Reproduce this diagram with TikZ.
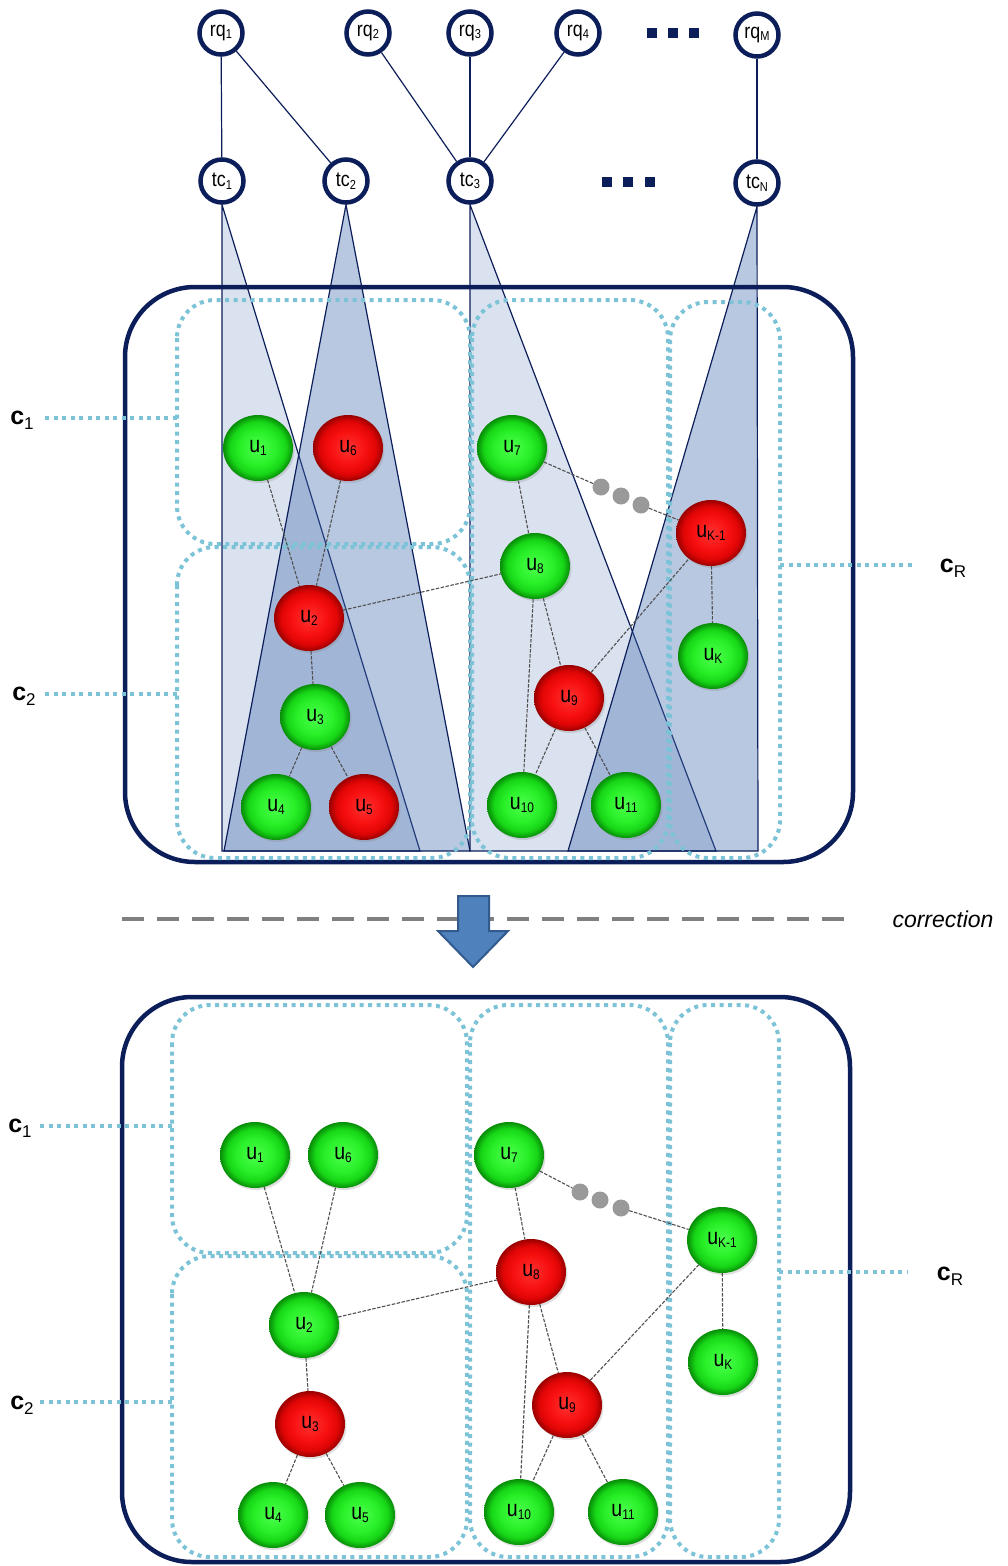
\documentclass[tikz,border=0pt]{standalone}
\usepackage{fontspec}
\setmainfont{Liberation Sans}
\newfontfamily\nfont[FakeStretch=0.85]{Liberation Sans}
\usetikzlibrary{shapes.geometric,shadows}

\definecolor{navy}{RGB}{12,30,90}
\definecolor{clus}{RGB}{125,195,215}
\definecolor{cone}{RGB}{70,110,175}
\definecolor{edgegray}{RGB}{80,80,80}
\definecolor{arrowfill}{RGB}{79,129,189}
\definecolor{arrowdraw}{RGB}{50,90,140}
\definecolor{corrgray}{RGB}{128,128,128}

\pgfdeclareradialshading{gball}{\pgfpoint{0bp}{0bp}}{rgb(0bp)=(0.3,1,0.3); rgb(13bp)=(0.16,0.94,0.16); rgb(20bp)=(0.09,0.84,0.09); rgb(25bp)=(0.03,0.55,0.03); rgb(50bp)=(0.03,0.55,0.03)}
\pgfdeclareradialshading{rball}{\pgfpoint{0bp}{0bp}}{rgb(0bp)=(1,0.2,0.2); rgb(13bp)=(0.97,0.06,0.06); rgb(20bp)=(0.88,0.02,0.02); rgb(25bp)=(0.6,0,0); rgb(50bp)=(0.6,0,0)}

\newcommand\usub[1]{\raisebox{-3pt}{\fontsize{14}{14}\selectfont #1}}
\newcommand\qsub[1]{\raisebox{-2.5pt}{\fontsize{13}{13}\selectfont #1}}
\newcommand\csub[1]{\raisebox{-5pt}{\fontsize{17}{17}\selectfont\mdseries #1}}

\tikzset{
  ubase/.style={ellipse, minimum width=70pt, minimum height=66pt, inner sep=0pt,
    font=\nfont\fontsize{23}{23}\selectfont,
    drop shadow={opacity=0.25, shadow xshift=1.5pt, shadow yshift=-2pt}},
  gn/.style={ubase, shade, shading=gball},
  rn/.style={ubase, shade, shading=rball},
  qnode/.style={circle, draw=navy, line width=4.5pt, fill=white, minimum size=43pt,
    inner sep=0pt, font=\nfont\fontsize{21}{21}\selectfont},
  link/.style={draw=navy, line width=1.2pt},
  coneA/.style={fill=cone, fill opacity=0.2, draw=navy, line width=1.2pt},
  coneB/.style={fill=cone, fill opacity=0.38, draw=navy, line width=1.2pt},
  outerbox/.style={draw=navy, line width=4.5pt, rounded corners=70pt},
  clusbox/.style={draw=clus, line width=4pt, dash pattern=on 4pt off 4.5pt, rounded corners=38pt},
  cline/.style={draw=clus, line width=4pt, dash pattern=on 4pt off 4.5pt},
  uedge/.style={draw=edgegray, line width=1.1pt, dash pattern=on 3.5pt off 1.5pt},
  gdot/.style={circle, fill=gray!80, minimum size=17pt, inner sep=0pt},
  sq/.style={fill=navy, minimum size=10pt, inner sep=0pt},
  clabel/.style={font=\bfseries\fontsize{25}{25}\selectfont, inner sep=1pt},
  corr/.style={draw=corrgray, line width=4.5pt, dash pattern=on 22pt off 13pt},
}

\begin{document}
\begin{tikzpicture}[x=1pt,y=-1pt]
\useasboundingbox (0,0) rectangle (1008,1566);

% ---------------- request / test-case layer
\node[qnode] (rq1) at (221,33) {rq\qsub{1}};
\node[qnode] (rq2) at (368,33) {rq\qsub{2}};
\node[qnode] (rq3) at (470,33) {rq\qsub{3}};
\node[qnode] (rq4) at (578,33) {rq\qsub{4}};
\node[qnode] (rqM) at (757,35) {rq\qsub{M}};
\node[sq] (qd1) at (652,33) {};
\node[sq] (qd2) at (673,33) {};
\node[sq] (qd3) at (694,33) {};

\node[qnode] (tc1) at (222,181) {tc\qsub{1}};
\node[qnode] (tc2) at (346,181) {tc\qsub{2}};
\node[qnode] (tc3) at (470,181) {tc\qsub{3}};
\node[qnode] (tcN) at (757,183) {tc\qsub{N}};
\node[sq] (td1) at (607,182) {};
\node[sq] (td2) at (628,182) {};
\node[sq] (td3) at (650,182) {};

\draw[link] (rq1) -- (tc1);
\draw[link] (rq1) -- (tc2);
\draw[link] (rq2) -- (tc3);
\draw[link] (rq3) -- (tc3);
\draw[link] (rq4) -- (tc3);
\draw[link] (rqM) -- (tcN);

% ---------------- cones
\path[coneA] (tc1.south) -- (222,851) -- (420,851) -- cycle;
\path[coneB] (tc2.south) -- (224,851) -- (470,851) -- cycle;
\path[coneA] (tc3.south) -- (470,851) -- (716,851) -- cycle;
\path[coneB] (tcN.south) -- (568,851) -- (758,851) -- cycle;

% ---------------- top system
\draw[outerbox] (125,287) rectangle (853,862);
\draw[clusbox] (177,300) rectangle (470,544);
\draw[clusbox] (177,547) rectangle (470,858);
\draw[clusbox] (472,300) rectangle (668,858);
\draw[clusbox] (670,302) rectangle (780,858);

\node[clabel] (tl1) at (22,420) {c\csub{1}};
\node[clabel] (tl2) at (24,696) {c\csub{2}};
\node[clabel] (tlR) at (953,568) {c\csub{R}};
\coordinate (tl1a) at (45,418);  \coordinate (tl1b) at (177,418);
\coordinate (tl2a) at (45,694);  \coordinate (tl2b) at (177,694);
\coordinate (tlRa) at (780,565); \coordinate (tlRb) at (912,565);
\draw[cline] (tl1a) -- (tl1b);
\draw[cline] (tl2a) -- (tl2b);
\draw[cline] (tlRa) -- (tlRb);

\node[gn] (a1) at (258,448) {u\usub{1}};
\node[rn] (a6) at (348,448) {u\usub{6}};
\node[gn] (a7) at (512,448) {u\usub{7}};
\node[rn] (aK1) at (711,533) {u\usub{K-1}};
\node[gn] (a8) at (535,566) {u\usub{8}};
\node[rn] (a2) at (309,618) {u\usub{2}};
\node[gn] (aK) at (713,656) {u\usub{K}};
\node[rn] (a9) at (569,698) {u\usub{9}};
\node[gn] (a3) at (315,717) {u\usub{3}};
\node[gn] (a4) at (276,807) {u\usub{4}};
\node[rn] (a5) at (364,807) {u\usub{5}};
\node[gn] (a10) at (522,805) {u\usub{10}};
\node[gn] (a11) at (626,805) {u\usub{11}};
\node[gdot] (ad1) at (601,487) {};
\node[gdot] (ad2) at (621,496) {};
\node[gdot] (ad3) at (641,505) {};

\draw[uedge] (a1) -- (a2);
\draw[uedge] (a6) -- (a2);
\draw[uedge] (a2) -- (a8);
\draw[uedge] (a2) -- (a3);
\draw[uedge] (a3) -- (a4);
\draw[uedge] (a3) -- (a5);
\draw[uedge] (a7) -- (a8);
\draw[uedge] (a8) -- (a10);
\draw[uedge] (a8) -- (a9);
\draw[uedge] (a9) -- (a10);
\draw[uedge] (a9) -- (a11);
\draw[uedge] (a9) -- (aK1);
\draw[uedge] (aK1) -- (aK);
\draw[uedge] (a7) -- (ad1);
\draw[uedge] (ad3) -- (aK1);

% ---------------- correction separator
\coordinate (cs) at (122,919);
\coordinate (ce) at (857,919);
\draw[corr] (cs) -- (ce);
\node[font=\itshape\fontsize{23}{23}\selectfont] (corrtext) at (943,919) {correction};
\draw[fill=arrowfill, draw=arrowdraw, line width=2pt, line join=miter]
  (458,896) -- (489,896) -- (489,931) -- (508,931) -- (473,967) -- (438,931) -- (458,931) -- cycle;

% ---------------- bottom system
\draw[outerbox] (122,997) rectangle (850,1562);
\draw[clusbox] (172,1005) rectangle (467,1253);
\draw[clusbox] (172,1256) rectangle (467,1557);
\draw[clusbox] (470,1005) rectangle (668,1557);
\draw[clusbox] (670,1005) rectangle (779,1557);

\node[clabel] (bl1) at (20,1128) {c\csub{1}};
\node[clabel] (bl2) at (22,1405) {c\csub{2}};
\node[clabel] (blR) at (950,1276) {c\csub{R}};
\coordinate (bl1a) at (40,1126);  \coordinate (bl1b) at (172,1126);
\coordinate (bl2a) at (40,1402);  \coordinate (bl2b) at (172,1402);
\coordinate (blRa) at (779,1272); \coordinate (blRb) at (908,1272);
\draw[cline] (bl1a) -- (bl1b);
\draw[cline] (bl2a) -- (bl2b);
\draw[cline] (blRa) -- (blRb);

\node[gn] (b1) at (255,1155) {u\usub{1}};
\node[gn] (b6) at (343,1155) {u\usub{6}};
\node[gn] (b7) at (509,1155) {u\usub{7}};
\node[gn] (bK1) at (722,1240) {u\usub{K-1}};
\node[rn] (b8) at (531,1272) {u\usub{8}};
\node[gn] (b2) at (304,1325) {u\usub{2}};
\node[gn] (bK) at (723,1362) {u\usub{K}};
\node[rn] (b9) at (567,1405) {u\usub{9}};
\node[rn] (b3) at (310,1424) {u\usub{3}};
\node[gn] (b4) at (273,1515) {u\usub{4}};
\node[gn] (b5) at (360,1515) {u\usub{5}};
\node[gn] (b10) at (519,1512) {u\usub{10}};
\node[gn] (b11) at (623,1512) {u\usub{11}};
\node[gdot] (bd1) at (580,1192) {};
\node[gdot] (bd2) at (600,1200) {};
\node[gdot] (bd3) at (621,1208) {};

\draw[uedge] (b1) -- (b2);
\draw[uedge] (b6) -- (b2);
\draw[uedge] (b2) -- (b8);
\draw[uedge] (b2) -- (b3);
\draw[uedge] (b3) -- (b4);
\draw[uedge] (b3) -- (b5);
\draw[uedge] (b7) -- (b8);
\draw[uedge] (b8) -- (b10);
\draw[uedge] (b8) -- (b9);
\draw[uedge] (b9) -- (b10);
\draw[uedge] (b9) -- (b11);
\draw[uedge] (b9) -- (bK1);
\draw[uedge] (bK1) -- (bK);
\draw[uedge] (b7) -- (bd1);
\draw[uedge] (bd3) -- (bK1);
\end{tikzpicture}
\end{document}
